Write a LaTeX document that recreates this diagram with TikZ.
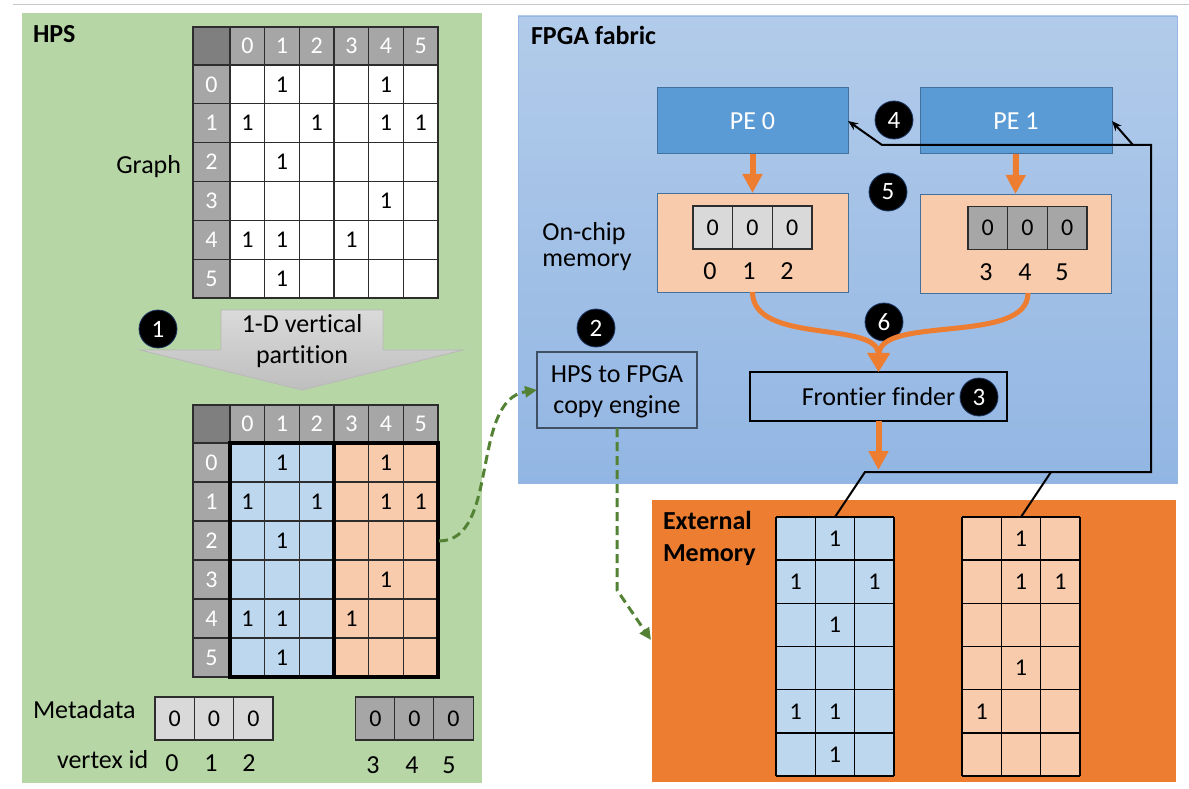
\documentclass[tikz,border=0pt]{standalone}
\usepackage{fontspec}
\setmainfont{Carlito}[Ligatures=NoCommon]
\usetikzlibrary{arrows.meta,calc}

\definecolor{hpsgreen}{RGB}{183,214,166}
\definecolor{fpgatop}{RGB}{178,203,234}
\definecolor{fpgabot}{RGB}{146,182,227}
\definecolor{fpgaedge}{RGB}{150,183,225}
\definecolor{peblue}{RGB}{91,155,213}
\definecolor{peedge}{RGB}{65,113,156}
\definecolor{peach}{RGB}{248,203,173}
\definecolor{paleblue}{RGB}{189,215,238}
\definecolor{accorange}{RGB}{237,125,49}
\definecolor{hdrgray}{RGB}{166,166,166}
\definecolor{cornergray}{RGB}{127,127,127}
\definecolor{metalight}{RGB}{217,217,217}
\definecolor{dashgreen}{RGB}{84,130,53}
\definecolor{gridgray}{RGB}{45,45,45}
\definecolor{copyedge}{RGB}{64,80,100}
\definecolor{badgeedge}{RGB}{31,56,100}
\definecolor{rulegray}{RGB}{200,200,200}
\definecolor{arrtop}{RGB}{218,218,218}
\definecolor{arrbot}{RGB}{190,190,190}

\begin{document}
\begin{tikzpicture}[x=1pt,y=-1pt,
  every node/.style={inner sep=0pt, outer sep=0pt, font=\fontsize{26}{31}\selectfont},
  bold/.style={font=\fontsize{26}{31}\selectfont\bfseries},
  dig/.style={font=\fontsize{24}{28}\selectfont},
  hdig/.style={dig, text=white},
  grid/.style={draw=gridgray, line width=1.3pt},
  blkgrid/.style={draw=black, line width=1.5pt},
  thick border/.style={draw=black, line width=3.5pt},
  meta/.style={draw=gridgray, line width=1.2pt, minimum width=39.5pt, minimum height=43pt, dig},
  badge/.style={circle, fill=black, draw=badgeedge, line width=0.8pt, minimum size=38pt,
                text=white, font=\fontsize{25}{30}\selectfont},
  pebox/.style={fill=peblue, draw=peedge, line width=1pt, minimum width=191pt,
                minimum height=66pt, text=white},
  ocmbox/.style={fill=peach, draw=peedge, line width=1pt, minimum width=191pt, minimum height=99pt},
  orarrow/.style={draw=accorange, line width=6pt, -{Triangle[length=19pt,width=19pt]}},
  orcurve/.style={draw=accorange, line width=5pt, -{Triangle[length=19pt,width=21pt]}},
  blk/.style={draw=black, line width=2pt},
  blkarrow/.style={blk, -{Stealth[length=10pt,width=8pt]}},
  gdash/.style={draw=dashgreen, line width=3pt, dash pattern=on 9pt off 5pt,
                -{Triangle[length=12pt,width=11pt]}},
]
\useasboundingbox (0,0) rectangle (1189,789);
\fill[white] (0,0) rectangle (1189,789);
\draw[rulegray, line width=1.3pt] (13,4.5) -- (1189,4.5);

%% ---------------- HPS ----------------
\node[fill=hpsgreen, minimum width=460pt, minimum height=770pt, anchor=north west] (hps) at (22,13) {};
\node[bold, anchor=base west] (hpstitle) at (33,43) {HPS};
\node[anchor=base east] (graphlbl) at (181,173) {Graph};

% adjacency matrix
\fill[cornergray] (193,27) rectangle (230,65);
\fill[hdrgray] (230,27) rectangle (438,65);
\fill[hdrgray] (193,65) rectangle (230,298);
\node[fill=white, minimum width=208pt, minimum height=233pt, anchor=north west] (graph) at (230,65) {};
\foreach \k in {0,...,6}
  \draw[grid] ({230+\k*34.667},27) -- ({230+\k*34.667},298);
\foreach \k in {0,...,6}
  \draw[grid] (193,{65+\k*38.833}) -- (438,{65+\k*38.833});
\draw[grid] (193,27) rectangle (438,298);
\foreach \k in {0,...,5} {
  \node[hdig] (gcol\k) at ({247.33+\k*34.667},46) {\k};
  \node[hdig] (grow\k) at (211.5,{84.42+\k*38.833}) {\k};
}
\foreach \r/\c in {0/1,0/4,1/0,1/2,1/4,1/5,2/1,3/4,4/0,4/1,4/3,5/1}
  \node[dig] (g\r\c) at ({247.33+\c*34.667},{84.42+\r*38.833}) {1};

% partition arrow
\shade[top color=arrtop, bottom color=arrbot, draw=gray!55, line width=0.8pt]
  (221,310) -- (383,310) -- (383,350) -- (463,350) -- (302,390) -- (140,350) -- (221,350) -- cycle;
\node[anchor=base] (partl1) at (302,332) {1-D vertical};
\node[anchor=base] (partl2) at (302,363) {partition};
\node[badge] (b1) at (158,329) {1};

% partitioned matrix
\fill[cornergray] (193,405) rectangle (230,443);
\fill[hdrgray] (230,405) rectangle (438,443);
\fill[hdrgray] (193,443) rectangle (230,677);
\node[fill=paleblue, minimum width=104pt, minimum height=234pt, anchor=north west] (partL) at (230,443) {};
\node[fill=peach, minimum width=104pt, minimum height=234pt, anchor=north west] (partR) at (334,443) {};
\foreach \k in {0,...,6}
  \draw[grid] ({230+\k*34.667},405) -- ({230+\k*34.667},677);
\foreach \k in {0,...,6}
  \draw[grid] (193,{443+\k*39}) -- (438,{443+\k*39});
\draw[grid] (193,405) rectangle (438,677);
\foreach \k in {0,...,5} {
  \node[hdig] (pcol\k) at ({247.33+\k*34.667},424) {\k};
  \node[hdig] (prow\k) at (211.5,{462.5+\k*39}) {\k};
}
\foreach \r/\c in {0/1,0/4,1/0,1/2,1/4,1/5,2/1,3/4,4/0,4/1,4/3,5/1}
  \node[dig] (p\r\c) at ({247.33+\c*34.667},{462.5+\r*39}) {1};
\draw[thick border] (230,443) rectangle (334,677);
\draw[thick border] (334,443) rectangle (438,677);
\coordinate (gstart) at (439,541);

% metadata
\node[anchor=base west] (metalbl) at (33,718) {Metadata};
\node[anchor=base west] (vidlbl) at (57,768) {vertex id};
\foreach \k in {0,1,2} {
  \node[meta, fill=metalight] (hm\k) at ({174.67+\k*39.33},718.5) {0};
  \node[meta, fill=hdrgray] (hd\k) at ({375.5+\k*39},718.5) {0};
}
\foreach \v/\x in {0/172,1/211,2/249}
  \node[anchor=base] (vid\v) at (\x,771) {\v};
\foreach \v/\x in {3/373,4/412,5/449}
  \node[anchor=base] (vid\v) at (\x,773) {\v};

%% ---------------- FPGA fabric ----------------
\node[anchor=north west, minimum width=659pt, minimum height=467pt, top color=fpgatop,
      bottom color=fpgabot, draw=fpgaedge, line width=0.8pt] (fpga) at (518,16) {};
\node[bold, anchor=base west] (fpgatitle) at (531,45) {FPGA fabric};

\node[pebox] (pe0) at (752.5,121) {PE 0};
\node[pebox, minimum width=192pt] (pe1) at (1016,121) {PE 1};

\node[ocmbox] (ocm0) at (752.5,242.5) {};
\node[ocmbox] (ocm1) at (1015.5,243.5) {};
\foreach \k in {0,1,2} {
  \node[meta, fill=metalight, minimum width=39.67pt] (om\k) at ({712.8+\k*39.67},227.5) {0};
  \node[meta, fill=hdrgray, minimum width=39.67pt] (od\k) at ({987.8+\k*39.67},228) {0};
}
\foreach \v/\x in {0/710,1/749,2/787}
  \node[anchor=base] (ov\v) at (\x,279) {\v};
\foreach \v/\x in {3/986,4/1025,5/1062}
  \node[anchor=base] (ov\v) at (\x,280) {\v};
\node[anchor=base] (onchip1) at (584,240) {On-chip};
\node[anchor=base] (onchip2) at (587,266) {memory};

\node[draw=copyedge, line width=1.2pt, minimum width=160pt, minimum height=76pt] (copy) at (617,390) {};
\node[anchor=base] (copyl1) at (617,382) {HPS to FPGA};
\node[anchor=base] (copyl2) at (617,413) {copy engine};

\node[draw=black, line width=1.4pt, minimum width=257pt, minimum height=49pt] (ff) at (878.5,396.5) {Frontier finder};

\node[badge] (b2) at (596,328) {2};
\node[badge] (b3) at (979,397) {3};
\node[badge] (b4) at (894,120) {4};
\node[badge] (b5) at (888,192) {5};
\node[badge] (b6) at (884,322) {6};

%% ---------------- External memory ----------------
\node[anchor=north west, fill=accorange, minimum width=524pt, minimum height=282pt] (ext) at (652,500) {};
\node[bold, anchor=base west] (extl1) at (663,529) {External};
\node[bold, anchor=base west] (extl2) at (663,561) {Memory};

\node[fill=paleblue, minimum width=118pt, minimum height=259pt, anchor=north west] (extL) at (776,517) {};
\node[fill=peach, minimum width=118pt, minimum height=259pt, anchor=north west] (extR) at (962,517) {};
\foreach \x in {776,962} {
  \foreach \k in {0,...,3}
    \draw[blkgrid] ({\x+\k*39.33},517) -- ({\x+\k*39.33},776);
  \foreach \k in {0,...,6}
    \draw[blkgrid] (\x,{517+\k*43.17}) -- ({\x+118},{517+\k*43.17});
}
\foreach \r/\c in {0/1,1/0,1/2,2/1,4/0,4/1,5/1}
  \node[dig] (el\r\c) at ({795.67+\c*39.33},{538.6+\r*43.17}) {1};
\foreach \r/\c in {0/1,1/1,1/2,3/1,4/0}
  \node[dig] (er\r\c) at ({981.67+\c*39.33},{538.6+\r*43.17}) {1};

%% ---------------- connectors ----------------
% orange data paths
\draw[orarrow] (pe0.south) -- (ocm0.north);
\draw[orarrow] (pe1.south) -- (ocm1.north);
\draw[orcurve] (ocm0.south) .. controls (752.5,345) and (878,320) .. (ff.north);
\draw[orcurve] ($(ocm1.south)+(12.5,0)$) .. controls (1028,345) and (880,315) .. (ff.north);
\coordinate (ffout) at (878.5,470);
\draw[orarrow] (ff.south) -- (ffout);

% black wiring from external memory back to the PEs
\coordinate (w1) at (865,472);
\coordinate (w2) at (1151,472);
\coordinate (w3) at (1151,145);
\coordinate (w4) at (882,145);
\coordinate (w5) at (1133,145);
\coordinate (w6) at (1051,472);
\draw[blkarrow] (extL.north) -- (w1) -- (w2) -- (w3) -- (w4) -- (pe0.east);
\draw[blkarrow] (w5) -- (pe1.east);
\draw[blk] (w6) -- (extR.north);

% green copy paths
\draw[gdash] (gstart) .. controls (500,541) and (470,400) .. (copy.west);
\coordinate (gbend) at (617,590);
\coordinate (extin) at (651,640);
\draw[gdash] (copy.south) -- (gbend) -- (extin);
\end{tikzpicture}
\end{document}
